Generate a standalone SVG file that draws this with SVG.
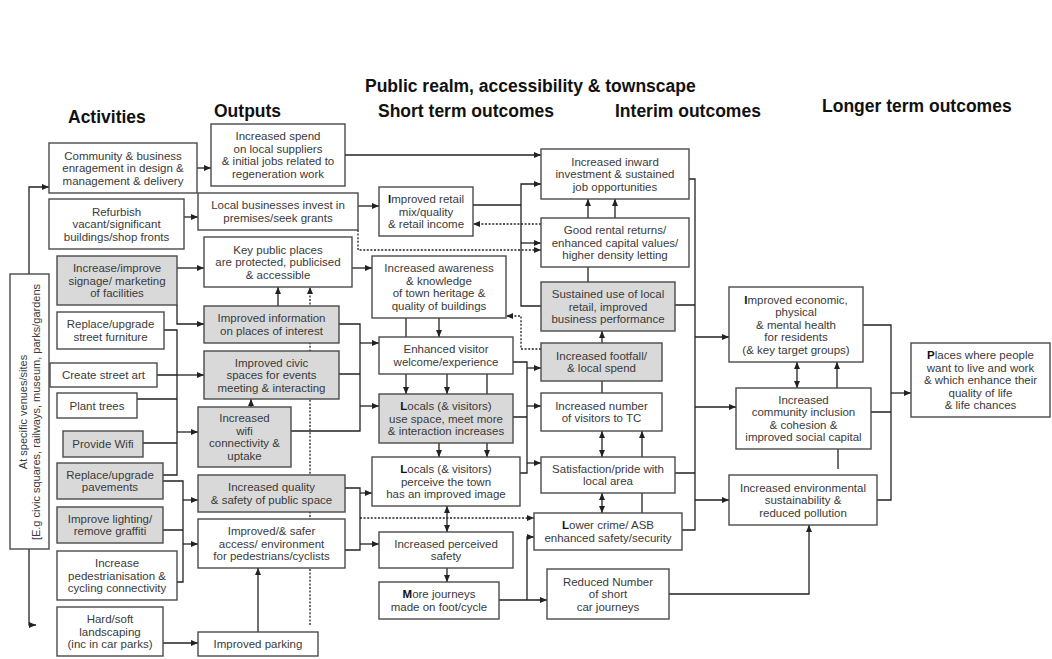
<svg xmlns="http://www.w3.org/2000/svg" width="1052" height="659" viewBox="0 0 1052 659">
<defs>
<marker id="ar" markerUnits="userSpaceOnUse" markerWidth="8" markerHeight="7" refX="7" refY="3" orient="auto-start-reverse"><path d="M0,0 L7,3 L0,6 z" fill="#222"/></marker>
</defs>
<style>
.b{fill:#fff;stroke:#4a4a4a;stroke-width:1.4}
.g{fill:#d9d9d9;stroke:#4a4a4a;stroke-width:1.4}
.t{font-family:"Liberation Sans",Arial,sans-serif;font-size:11.5px;fill:#3a3a3a;text-anchor:middle}
.v{font-family:"Liberation Sans",Arial,sans-serif;font-size:11px;fill:#3a3a3a;text-anchor:middle}
.h{font-family:"Liberation Sans",Arial,sans-serif;font-size:17.5px;font-weight:bold;fill:#111}
.c{fill:none;stroke:#222;stroke-width:1.3}
.a{marker-end:url(#ar)}
.s{marker-start:url(#ar)}
.d{stroke-dasharray:2 1.6}
.bb{font-weight:bold;fill:#111}
</style>
<rect width="1052" height="659" fill="#fff"/>
<g id="headings">
<text class="h" x="68" y="123">Activities</text>
<text class="h" x="214" y="117">Outputs</text>
<text class="h" x="365" y="92">Public realm, accessibility &amp; townscape</text>
<text class="h" x="378" y="117">Short term outcomes</text>
<text class="h" x="615" y="117">Interim outcomes</text>
<text class="h" x="822" y="112">Longer term outcomes</text>
</g>
<g id="connectors">
<path class="c a" d="M29,274 V187 H49"/>
<path class="c a" d="M29,549 V625 H36"/>
<path class="c a" d="M197,168 H211"/>
<path class="c a" d="M184,217 H198"/>
<path class="c a" d="M177,268 H204"/>
<path class="c a" d="M177,305 V324 H204"/>
<path class="c" d="M164,330 H177 V475 H163 M157,375 H177 M137,399 H177 M143,443 H177"/>
<path class="c a" d="M177,375 H204"/>
<path class="c a" d="M177,432 H198"/>
<path class="c" d="M163,481 H183 V582 H177 M163,530 H183"/>
<path class="c a" d="M183,500 H198"/>
<path class="c a" d="M183,544 H198"/>
<path class="c a" d="M163,643 H198"/>
<path class="c a" d="M258,632 V568"/>
<path class="c a" d="M345,155 H541"/>
<path class="c a" d="M358,206 H379"/>
<path class="c a d" d="M358,230 V250 H541"/>
<path class="c a" d="M352,268 H372"/>
<path class="c a" d="M278,306 V287"/>
<path class="c a d" d="M310,625 V287"/>
<path class="c a" d="M251,407 V399"/>
<path class="c" d="M339,324 H360 V431 H291 M339,374 H360"/>
<path class="c a" d="M360,343 H379"/>
<path class="c a" d="M360,406 H379"/>
<path class="c" d="M345,488 H360 V550 H345"/>
<path class="c a" d="M360,493 H372"/>
<path class="c a" d="M360,544 H379"/>
<path class="c a d" d="M360,518 H534"/>
<path class="c a" d="M439,318 V337"/>
<path class="c" d="M406,318 V337"/>
<path class="c a" d="M406,374 V394"/>
<path class="c a" d="M447,374 V394"/>
<path class="c" d="M487,374 V394"/>
<path class="c a" d="M439,443 V457"/>
<path class="c a" d="M487,443 V457"/>
<path class="c a s" d="M447,506 V532"/>
<path class="c a" d="M447,568 V582"/>
<path class="c" d="M473,205 H521"/>
<path class="c a" d="M541,306 H521 V184 H541"/>
<path class="c a" d="M521,243 H541"/>
<path class="c a d" d="M541,224 H473"/>
<path class="c a d" d="M541,349 H521 V316 H506"/>
<path class="c" d="M513,362 H527 V473 H520 M513,417 H527"/>
<path class="c a" d="M527,368 H541"/>
<path class="c a" d="M527,406 H541"/>
<path class="c a" d="M527,463 H541"/>
<path class="c a" d="M499,600 H547"/>
<path class="c a" d="M527,600 V537 H534"/>
<path class="c a" d="M588,218 V199"/>
<path class="c a" d="M615,218 V199"/>
<path class="c" d="M588,282 V267"/>
<path class="c a" d="M602,343 V331"/>
<path class="c" d="M602,393 V381"/>
<path class="c a s" d="M602,457 V431"/>
<path class="c a" d="M642,457 V431"/>
<path class="c a s" d="M602,513 V493"/>
<path class="c" d="M642,493 V513"/>
<path class="c" d="M689,179 H695 V530 H682 M675,305 H695 M675,473 H695"/>
<path class="c a" d="M695,337 H729"/>
<path class="c a" d="M695,407 H736"/>
<path class="c a" d="M695,500 H729"/>
<path class="c a" d="M669,594 H809 V525"/>
<path class="c a s" d="M797,388 V362"/>
<path class="c a" d="M837,388 V362"/>
<path class="c" d="M838,449 V469"/>
<path class="c" d="M863,325 H891 V500 H877 M871,412 H891"/>
<path class="c a" d="M891,393 H911"/>
</g>
<g id="venues">
<rect class="b" x="10" y="274" width="39" height="275"/>
<text class="v" transform="translate(27,412) rotate(-90)">At specific venues/sites</text>
<text class="v" transform="translate(40,412) rotate(-90)">[E.g civic squares, railways, museum, parks/gardens</text>
</g>
<g id="a1"><rect class="b" x="49" y="143" width="148" height="50"/><text class="t"><tspan x="123" y="159.5">Community &amp; business</tspan><tspan x="123" y="172">enragement in design &amp;</tspan><tspan x="123" y="184.5">management &amp; delivery</tspan></text></g>
<g id="a2"><rect class="b" x="49" y="199" width="135" height="50"/><text class="t"><tspan x="116.5" y="215.5">Refurbish</tspan><tspan x="116.5" y="228">vacant/significant</tspan><tspan x="116.5" y="240.5">buildings/shop fronts</tspan></text></g>
<g id="a3"><rect class="g" x="57" y="256" width="120" height="49"/><text class="t"><tspan x="117" y="272">Increase/improve</tspan><tspan x="117" y="284.5">signage/ marketing</tspan><tspan x="117" y="297">of facilities</tspan></text></g>
<g id="a4"><rect class="b" x="57" y="312" width="107" height="37"/><text class="t"><tspan x="110.5" y="328.25">Replace/upgrade</tspan><tspan x="110.5" y="340.75">street furniture</tspan></text></g>
<g id="a5"><rect class="b" x="50" y="363" width="107" height="24"/><text class="t" x="103.5" y="379">Create street art</text></g>
<g id="a6"><rect class="b" x="57" y="393" width="80" height="25"/><text class="t" x="97" y="409.5">Plant trees</text></g>
<g id="a7"><rect class="g" x="63" y="431" width="80" height="26"/><text class="t" x="103" y="448">Provide Wifi</text></g>
<g id="a8"><rect class="g" x="57" y="463" width="106" height="36"/><text class="t"><tspan x="110" y="478.75">Replace/upgrade</tspan><tspan x="110" y="491.25">pavements</tspan></text></g>
<g id="a9"><rect class="g" x="57" y="507" width="106" height="36"/><text class="t"><tspan x="110" y="522.75">Improve lighting/</tspan><tspan x="110" y="535.25">remove graffiti</tspan></text></g>
<g id="a10"><rect class="b" x="57" y="551" width="120" height="49"/><text class="t"><tspan x="117" y="567">Increase</tspan><tspan x="117" y="579.5">pedestrianisation &amp;</tspan><tspan x="117" y="592">cycling connectivity</tspan></text></g>
<g id="a11"><rect class="b" x="57" y="607" width="106" height="49"/><text class="t"><tspan x="110" y="623">Hard/soft</tspan><tspan x="110" y="635.5">landscaping</tspan><tspan x="110" y="648">(inc in car parks)</tspan></text></g>
<g id="o1"><rect class="b" x="211" y="124" width="134" height="62"/><text class="t"><tspan x="278" y="140.25">Increased spend</tspan><tspan x="278" y="152.75">on local suppliers</tspan><tspan x="278" y="165.25">&amp; initial jobs related to</tspan><tspan x="278" y="177.75">regeneration work</tspan></text></g>
<g id="o2"><rect class="b" x="198" y="193" width="160" height="37"/><text class="t"><tspan x="278" y="209.25">Local businesses invest in</tspan><tspan x="278" y="221.75">premises/seek grants</tspan></text></g>
<g id="o3"><rect class="b" x="204" y="237" width="148" height="50"/><text class="t"><tspan x="278" y="253.5">Key public places</tspan><tspan x="278" y="266">are protected, publicised</tspan><tspan x="278" y="278.5">&amp; accessible</tspan></text></g>
<g id="o4"><rect class="g" x="204" y="306" width="135" height="37"/><text class="t"><tspan x="271.5" y="322.25">Improved information</tspan><tspan x="271.5" y="334.75">on places of interest</tspan></text></g>
<g id="o5"><rect class="g" x="204" y="351" width="135" height="48"/><text class="t"><tspan x="271.5" y="366.5">Improved civic</tspan><tspan x="271.5" y="379">spaces for events</tspan><tspan x="271.5" y="391.5">meeting &amp; interacting</tspan></text></g>
<g id="o6"><rect class="g" x="198" y="407" width="93" height="60"/><text class="t"><tspan x="244.5" y="422.25">Increased</tspan><tspan x="244.5" y="434.75">wifi</tspan><tspan x="244.5" y="447.25">connectivity &amp;</tspan><tspan x="244.5" y="459.75">uptake</tspan></text></g>
<g id="o7"><rect class="g" x="198" y="475" width="147" height="37"/><text class="t"><tspan x="271.5" y="491.25">Increased quality</tspan><tspan x="271.5" y="503.75">&amp; safety of public space</tspan></text></g>
<g id="o8"><rect class="b" x="198" y="519" width="147" height="49"/><text class="t"><tspan x="271.5" y="535">Improved/&amp; safer</tspan><tspan x="271.5" y="547.5">access/ environment</tspan><tspan x="271.5" y="560">for pedestrians/cyclists</tspan></text></g>
<g id="o9"><rect class="b" x="198" y="632" width="120" height="24"/><text class="t" x="258" y="648">Improved parking</text></g>
<g id="s1"><rect class="b" x="379" y="187" width="94" height="49"/><text class="t"><tspan x="426" y="203"><tspan class="bb">I</tspan>mproved retail</tspan><tspan x="426" y="215.5">mix/quality</tspan><tspan x="426" y="228">&amp; retail income</tspan></text></g>
<g id="s2"><rect class="b" x="372" y="256" width="134" height="62"/><text class="t"><tspan x="439" y="272.25">Increased awareness</tspan><tspan x="439" y="284.75">&amp; knowledge</tspan><tspan x="439" y="297.25">of town heritage &amp;</tspan><tspan x="439" y="309.75">quality of buildings</tspan></text></g>
<g id="s3"><rect class="b" x="379" y="337" width="134" height="37"/><text class="t"><tspan x="446" y="353.25">Enhanced visitor</tspan><tspan x="446" y="365.75">welcome/experience</tspan></text></g>
<g id="s4"><rect class="g" x="379" y="394" width="134" height="49"/><text class="t"><tspan x="446" y="410"><tspan class="bb">L</tspan>ocals (&amp; visitors)</tspan><tspan x="446" y="422.5">use space, meet more</tspan><tspan x="446" y="435">&amp; interaction increases</tspan></text></g>
<g id="s5"><rect class="b" x="372" y="457" width="148" height="49"/><text class="t"><tspan x="446" y="473"><tspan class="bb">L</tspan>ocals (&amp; visitors)</tspan><tspan x="446" y="485.5">perceive the town</tspan><tspan x="446" y="498">has an improved image</tspan></text></g>
<g id="s6"><rect class="b" x="379" y="532" width="134" height="36"/><text class="t"><tspan x="446" y="547.75">Increased perceived</tspan><tspan x="446" y="560.25">safety</tspan></text></g>
<g id="s7"><rect class="b" x="379" y="582" width="120" height="37"/><text class="t"><tspan x="439" y="598.25"><tspan class="bb">M</tspan>ore journeys</tspan><tspan x="439" y="610.75">made on foot/cycle</tspan></text></g>
<g id="i1"><rect class="b" x="541" y="149" width="148" height="50"/><text class="t"><tspan x="615" y="165.5">Increased inward</tspan><tspan x="615" y="178">investment &amp; sustained</tspan><tspan x="615" y="190.5">job opportunities</tspan></text></g>
<g id="i2"><rect class="b" x="541" y="218" width="148" height="49"/><text class="t"><tspan x="615" y="234">Good rental returns/</tspan><tspan x="615" y="246.5">enhanced capital values/</tspan><tspan x="615" y="259">higher density letting</tspan></text></g>
<g id="i3"><rect class="g" x="541" y="282" width="134" height="49"/><text class="t"><tspan x="608" y="298">Sustained use of local</tspan><tspan x="608" y="310.5">retail, improved</tspan><tspan x="608" y="323">business performance</tspan></text></g>
<g id="i4"><rect class="g" x="541" y="343" width="121" height="38"/><text class="t"><tspan x="601.5" y="359.75">Increased footfall/</tspan><tspan x="601.5" y="372.25">&amp; local spend</tspan></text></g>
<g id="i5"><rect class="b" x="541" y="393" width="121" height="38"/><text class="t"><tspan x="601.5" y="409.75">Increased number</tspan><tspan x="601.5" y="422.25">of visitors to TC</tspan></text></g>
<g id="i6"><rect class="b" x="541" y="457" width="134" height="36"/><text class="t"><tspan x="608" y="472.75">Satisfaction/pride  with</tspan><tspan x="608" y="485.25">local area</tspan></text></g>
<g id="i7"><rect class="b" x="534" y="513" width="148" height="37"/><text class="t"><tspan x="608" y="529.25"><tspan class="bb">L</tspan>ower crime/ ASB</tspan><tspan x="608" y="541.75">enhanced safety/security</tspan></text></g>
<g id="i8"><rect class="b" x="547" y="569" width="122" height="50"/><text class="t"><tspan x="608" y="585.5">Reduced  Number</tspan><tspan x="608" y="598">of short</tspan><tspan x="608" y="610.5">car journeys</tspan></text></g>
<g id="l1"><rect class="b" x="729" y="287" width="134" height="75"/><text class="t"><tspan x="796" y="303.5"><tspan class="bb">I</tspan>mproved  economic,</tspan><tspan x="796" y="316">physical</tspan><tspan x="796" y="328.5">&amp; mental health</tspan><tspan x="796" y="341">for residents</tspan><tspan x="796" y="353.5">(&amp; key target groups)</tspan></text></g>
<g id="l2"><rect class="b" x="736" y="388" width="135" height="61"/><text class="t"><tspan x="803.5" y="403.75">Increased</tspan><tspan x="803.5" y="416.25">community  inclusion</tspan><tspan x="803.5" y="428.75">&amp; cohesion &amp;</tspan><tspan x="803.5" y="441.25">improved social capital</tspan></text></g>
<g id="l3"><rect class="b" x="729" y="475" width="148" height="50"/><text class="t"><tspan x="803" y="491.5">Increased environmental</tspan><tspan x="803" y="504">sustainability &amp;</tspan><tspan x="803" y="516.5">reduced pollution</tspan></text></g>
<g id="l4"><rect class="b" x="911" y="343" width="139" height="74"/><text class="t"><tspan x="980.5" y="359"><tspan class="bb">P</tspan>laces where people</tspan><tspan x="980.5" y="371.5">want to live and work</tspan><tspan x="980.5" y="384">&amp; which enhance their</tspan><tspan x="980.5" y="396.5">quality of life</tspan><tspan x="980.5" y="409">&amp; life chances</tspan></text></g>
</svg>
